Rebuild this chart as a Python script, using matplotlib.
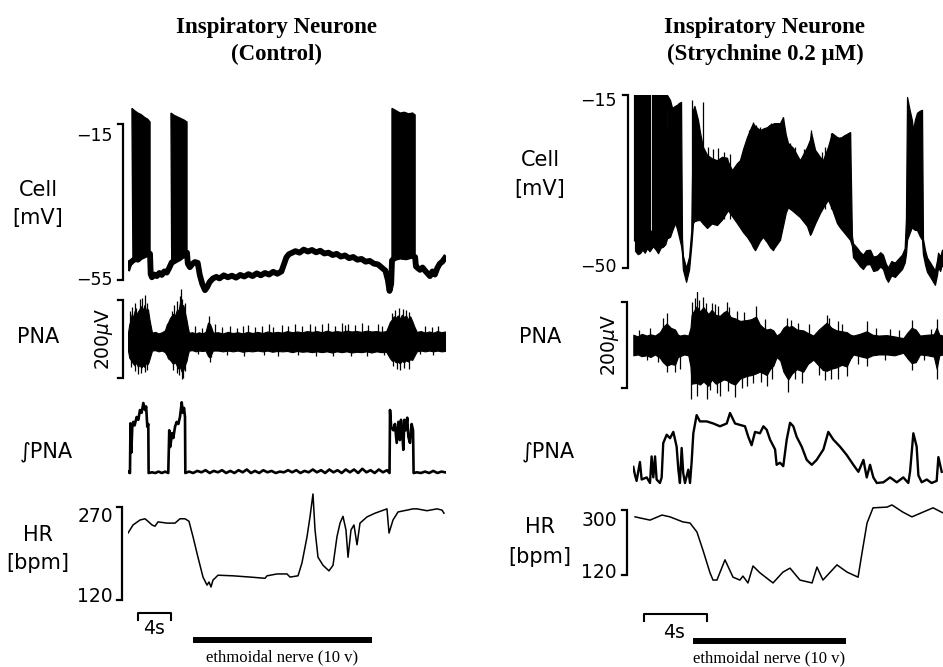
import numpy as np
import matplotlib
matplotlib.use("Agg")
import matplotlib.pyplot as plt

W, H = 943, 667

# ---------------- values ----------------
# left column: control. time in s, membrane potential in mV
cell_l_t = [0.0, 0.2, 0.4, 0.6, 0.9, 1.2, 1.5, 1.8, 2.1, 2.4, 2.67, 2.75, 2.9, 3.2, 3.5, 3.8, 4.1, 4.4,
            4.7, 5.0, 5.3, 5.6, 5.9, 6.2, 6.5, 6.8, 7.15, 7.25, 7.5, 7.8, 8.1, 8.45, 8.7, 9.0, 9.33, 9.6,
            9.9, 10.3, 10.7, 11.1, 11.6, 12.1, 12.6, 13.1, 13.6, 14.1, 14.6, 15.1, 15.6, 16.1, 16.6,
            17.1, 17.6, 18.1, 18.6, 18.9, 19.2, 19.5, 19.9, 20.3, 20.8, 21.3, 21.8, 22.3, 22.8, 23.3,
            23.8, 24.3, 24.8, 25.3, 25.8, 26.3, 26.8, 27.3, 27.8, 28.3, 28.8, 29.3, 29.8, 30.3, 30.8,
            31.2, 31.5, 31.7, 31.9, 32.0, 32.3, 33.0, 33.7, 34.4, 34.8, 34.9, 35.1, 35.4, 35.7, 36.0,
            36.3, 36.6, 36.9, 37.2, 37.5, 37.8, 38.1, 38.4]
cell_l_mv = [-51.9, -50.6, -50.4, -50.0, -49.6, -49.8, -49.2, -48.9, -48.6, -47.9, -48.3, -53.5, -54.3,
             -53.6, -54.0, -53.2, -53.7, -52.8, -53.1, -51.9, -50.5, -50.2, -49.8, -49.5, -49.0, -48.6,
             -48.0, -50.8, -51.7, -50.9, -50.4, -50.6, -53.7, -56.0, -57.6, -56.8, -55.5, -54.6, -54.2,
             -54.6, -53.8, -54.3, -53.9, -54.4, -53.7, -54.1, -53.5, -54.0, -53.3, -53.8, -53.2, -53.6,
             -52.9, -53.4, -52.8, -51.0, -49.2, -48.4, -48.0, -47.6, -48.0, -47.2, -47.7, -47.3, -47.9,
             -47.5, -48.2, -48.0, -48.6, -48.3, -49.0, -48.7, -49.4, -49.1, -49.8, -49.6, -50.3, -50.1,
             -50.8, -51.0, -51.9, -52.6, -55.0, -57.8, -56.0, -50.0, -49.4, -49.0, -49.2, -48.8, -49.1,
             -51.5, -51.9, -52.4, -51.8, -52.6, -53.3, -54.0, -52.8, -53.6, -51.9, -50.8, -50.3, -49.4]
# burst tops (spike peaks)
burst_l_t = [[0.48, 0.8, 1.2, 1.6, 2.0, 2.4, 2.67],
             [5.21, 5.6, 6.0, 6.4, 6.8, 7.15],
             [32.0, 32.5, 33.0, 33.5, 34.0, 34.5, 34.8]]
burst_l_top = [[-11.0, -11.6, -12.2, -12.6, -13.3, -13.8, -14.5],
               [-12.2, -12.8, -13.2, -13.6, -14.0, -14.5],
               [-11.0, -11.6, -12.2, -12.0, -12.4, -12.2, -12.7]]

# phrenic nerve activity, dense core of the trace: t, upper, lower (uV)
pna_l = np.array([
    [0.00, 24, -22], [0.15, 45, -40], [0.30, 55, -45], [0.45, 72, -50], [0.61, 62, -55],
    [0.80, 80, -60], [1.00, 72, -52], [1.21, 78, -64], [1.40, 85, -58], [1.60, 92, -66],
    [1.82, 82, -60], [2.00, 95, -64], [2.20, 80, -52], [2.42, 84, -56], [2.60, 58, -44],
    [2.80, 36, -30], [2.91, 24, -22], [3.30, 26, -21], [3.70, 22, -24], [4.10, 25, -22],
    [4.48, 30, -26], [4.70, 45, -34], [4.85, 50, -42], [5.10, 62, -46], [5.45, 72, -56],
    [5.70, 68, -52], [5.95, 84, -62], [6.10, 78, -68], [6.30, 100, -64], [6.50, 90, -76],
    [6.70, 95, -72], [6.91, 75, -58], [7.10, 56, -48], [7.25, 38, -32], [7.39, 24, -22],
    [7.80, 25, -21], [8.20, 22, -24], [8.60, 25, -22], [9.00, 22, -23], [9.40, 26, -22],
    [9.70, 50, -36], [9.94, 46, -40], [10.15, 34, -28], [10.30, 24, -22], [10.9, 25, -22],
    [11.5, 22, -24], [12.1, 26, -22], [12.7, 23, -24], [13.3, 25, -22], [13.9, 22, -25],
    [14.5, 26, -23], [15.1, 23, -24], [15.7, 26, -22], [16.3, 23, -24], [16.9, 27, -22],
    [17.5, 24, -25], [18.1, 26, -23], [18.7, 24, -24], [19.3, 28, -23], [19.9, 25, -26],
    [20.5, 27, -23], [21.1, 25, -25], [21.7, 28, -24], [22.3, 26, -26], [22.9, 28, -24],
    [23.5, 25, -26], [24.1, 29, -24], [24.7, 26, -27], [25.3, 28, -24], [25.9, 26, -26],
    [26.5, 29, -24], [27.1, 27, -27], [27.7, 28, -25], [28.3, 26, -26], [28.9, 29, -24],
    [29.5, 27, -27], [30.1, 28, -24], [30.7, 26, -26], [31.3, 28, -25], [31.76, 52, -42],
    [32.0, 58, -48], [32.2, 66, -46], [32.45, 62, -52], [32.7, 68, -50], [32.95, 60, -55],
    [33.2, 70, -48], [33.45, 64, -52], [33.7, 68, -47], [33.95, 58, -50], [34.2, 66, -44],
    [34.45, 54, -46], [34.7, 40, -36], [35.0, 26, -24], [35.5, 28, -22], [36.0, 24, -24],
    [36.5, 27, -22], [37.0, 24, -24], [37.5, 28, -22], [38.0, 25, -24], [38.42, 27, -23]])
# single deflections sticking out of the core: t, tip (uV)
pna_l_hair = np.array([
    [0.30, 79], [0.50, 90], [0.85, 100], [1.00, 87], [1.50, 110], [1.75, 113], [2.00, 120],
    [2.30, 100], [5.30, 80], [5.60, 95], [5.90, 105], [6.25, 118], [6.40, 135], [6.60, 110],
    [6.85, 100], [9.80, 67], [32.0, 75], [32.4, 82], [32.8, 88], [33.3, 85], [33.7, 82],
    [34.1, 78], [8.12, 40], [9.01, 36], [10.55, 45], [11.35, 38], [12.36, 42], [13.17, 36],
    [13.98, 40], [14.59, 44], [15.39, 38], [16.20, 42], [17.09, 45], [17.62, 39], [18.63, 44],
    [19.43, 40], [20.24, 46], [21.05, 41], [22.06, 47], [22.67, 42], [23.47, 45], [24.28, 48],
    [25.09, 42], [25.90, 49], [26.30, 44], [26.71, 47], [27.52, 43], [28.32, 49], [29.13, 44],
    [30.34, 46], [30.75, 41], [36.0, 40], [36.8, 38], [37.6, 42],
    [0.40, -65], [0.90, -75], [1.20, -82], [1.60, -80], [2.00, -78], [2.30, -72], [5.50, -72],
    [5.90, -80], [6.20, -85], [6.50, -95], [6.65, -92], [6.90, -75], [9.90, -51], [32.1, -62],
    [32.6, -70], [33.0, -72], [33.5, -66], [34.0, -68], [8.5, -32], [10.0, -38], [12.0, -33],
    [14.0, -35], [16.5, -34], [18.2, -36], [20.6, -34], [22.8, -36], [24.8, -35], [27.0, -37],
    [29.0, -35], [31.0, -34], [35.4, -32], [37.0, -33]])

# integrated PNA, arbitrary units
ipna_l_t = [0.00, 0.20, 0.24, 0.30, 0.40, 0.52, 0.64, 0.80, 1.05, 1.25, 1.45, 1.65, 1.86, 2.06, 2.20,
            2.34, 2.46, 2.50, 2.9, 3.3, 3.7, 4.1, 4.5, 4.88, 5.00, 5.10, 5.21, 5.35, 5.49, 5.70, 5.90,
            6.10, 6.30, 6.51, 6.65, 6.79, 6.91, 6.95, 7.4, 7.9, 8.4, 8.9, 9.4, 9.9, 10.4, 10.9, 11.4,
            11.9, 12.4, 12.9, 13.4, 13.9, 14.4, 14.9, 15.4, 15.9, 16.4, 16.9, 17.4, 17.9, 18.4, 18.9,
            19.4, 19.9, 20.4, 20.9, 21.4, 21.9, 22.4, 22.9, 23.4, 23.9, 24.4, 24.9, 25.4, 25.9, 26.4,
            26.9, 27.4, 27.9, 28.4, 28.9, 29.4, 29.9, 30.4, 30.9, 31.4, 31.7, 31.76, 31.90, 32.16,
            32.35, 32.57, 32.77, 32.95, 33.09, 33.25, 33.37, 33.50, 33.66, 33.85, 33.98, 34.18, 34.38,
            34.55, 34.62, 35.0, 35.5, 36.0, 36.5, 37.0, 37.5, 38.0, 38.42]
ipna_l_v = [2, 0, 0, 71, 29, 66, 73, 68, 80, 76, 90, 86, 100, 90, 95,
            66, 70, 0, 1, 0, 2, 0, 2, 0, 61, 37, 45, 57, 50, 66, 73,
            70, 80, 101, 86, 93, 80, 0, 2, 0, 3, 1, 4, 0, 3, 1, 4,
            0, 3, 0, 4, 1, 5, 0, 3, 0, 4, 1, 3, 0, 2, 1,
            4, 1, 4, 0, 3, 1, 5, 1, 4, 0, 5, 1, 4, 0, 5,
            1, 5, 0, 6, 1, 4, 0, 5, 1, 4, 0, 90, 66, 61,
            70, 43, 73, 47, 76, 57, 33, 76, 61, 79, 52, 43, 70,
            61, 0, 1, 0, 2, 0, 3, 0, 2, 1]

# heart rate, bpm
hr_l_t = [0.00, 0.61, 1.45, 2.06, 2.42, 2.91, 3.27, 3.64, 4.73, 5.70, 6.30, 6.91, 7.39, 7.88, 8.48,
          9.09, 9.58, 9.82, 10.06, 10.30, 10.91, 12.73, 14.79, 16.61, 16.85, 18.06, 19.27, 19.64,
          20.61, 21.09, 21.70, 22.06, 22.42, 22.67, 23.03, 23.64, 24.36, 24.85, 25.33, 25.70, 26.06,
          26.42, 26.67, 27.03, 27.39, 27.76, 28.12, 28.97, 29.94, 31.39, 31.64, 32.12, 32.73, 34.55,
          35.03, 36.24, 37.45, 38.06, 38.30]
hr_l_bpm = [228, 241, 249, 251, 247, 241, 239, 246, 244, 244, 251, 251, 247, 222, 189,
            157, 144, 149, 141, 152, 160, 159, 157, 155, 159, 162, 162, 157,
            159, 180, 222, 254, 291, 233, 189, 176, 167, 176, 222, 244, 255,
            233, 189, 233, 241, 209, 244, 254, 260, 267, 228, 249, 262, 267,
            267, 264, 267, 265, 260]

# right column: strychnine 0.2 uM. membrane potential envelope: t, lower, upper (mV)
cell_r = np.array([
    [0.13, -46.5, -43.2], [0.30, -47.2, -43.6], [0.44, -47.0, -43.4], [0.60, -46.3, -42.8],
    [0.75, -46.9, -43.3], [0.89, -46.0, -42.5], [1.05, -46.6, -43.0], [1.27, -45.6, -42.0],
    [1.45, -46.3, -42.8], [1.59, -47.0, -43.4], [1.75, -45.9, -42.4], [1.90, -45.7, -42.1],
    [2.05, -45.2, -41.6], [2.16, -44.0, -15.0], [2.35, -43.7, -16.0], [2.48, -42.5, -17.6],
    [2.67, -40.9, -17.2], [2.79, -42.0, -17.0], [2.92, -43.7, -16.6], [3.05, -45.5, -16.4],
    [3.11, -47.0, -44.0], [3.17, -50.3, -47.5], [3.37, -52.8, -50.0], [3.56, -50.3, -47.7],
    [3.70, -45.5, -42.5], [3.81, -40.9, -18.0], [3.90, -40.5, -17.2], [4.13, -40.3, -20.1],
    [4.25, -40.3, -22.5], [4.44, -41.0, -25.5], [4.70, -41.9, -27.1], [5.00, -41.0, -27.8],
    [5.33, -41.3, -28.2], [5.65, -40.2, -27.5], [5.97, -38.6, -27.7], [6.03, -38.3, -28.5],
    [6.29, -39.5, -30.2], [6.60, -40.9, -28.8], [6.79, -41.8, -28.2], [7.00, -42.8, -25.8],
    [7.24, -43.7, -23.5], [7.50, -45.0, -21.5], [7.62, -45.8, -20.7], [7.75, -46.4, -21.3],
    [8.06, -44.5, -22.1], [8.25, -43.7, -21.8], [8.51, -44.8, -21.5], [8.70, -45.8, -21.0],
    [8.89, -46.4, -20.8], [8.95, -46.0, -20.7], [9.33, -44.3, -20.7], [9.52, -41.5, -19.5],
    [9.70, -38.8, -23.0], [9.84, -37.7, -24.7], [10.16, -38.5, -25.7], [10.60, -39.7, -28.2],
    [11.05, -41.5, -25.5], [11.24, -43.3, -24.0], [11.30, -43.0, -22.5], [11.56, -41.0, -26.1],
    [11.87, -38.9, -27.5], [12.06, -37.8, -28.2], [12.38, -36.2, -25.5], [12.63, -38.0, -22.7],
    [12.95, -40.9, -23.5], [13.14, -41.8, -23.7], [13.50, -43.2, -23.0], [13.78, -44.3, -22.5],
    [13.90, -45.5, -43.5], [13.97, -47.8, -45.0], [14.22, -48.8, -45.9], [14.40, -49.6, -46.7],
    [14.60, -50.2, -47.3], [14.80, -49.3, -46.4], [15.05, -49.2, -46.3], [15.25, -50.6, -47.7],
    [15.49, -50.4, -47.5], [15.70, -49.7, -46.8], [15.87, -50.2, -47.3], [16.05, -52.0, -49.1],
    [16.19, -52.8, -49.9], [16.40, -51.5, -48.6], [16.63, -51.8, -48.9], [16.85, -51.0, -48.1],
    [17.08, -50.2, -47.3], [17.25, -48.9, -46.0], [17.33, -47.2, -40.0], [17.40, -44.3, -15.4],
    [17.55, -43.0, -17.8], [17.71, -41.7, -20.1], [17.78, -42.0, -22.1], [17.90, -42.3, -20.0],
    [18.03, -42.3, -18.6], [18.20, -43.5, -18.2], [18.35, -44.3, -18.0], [18.41, -47.2, -44.1],
    [18.55, -49.4, -46.5], [18.67, -50.8, -47.9], [18.85, -51.7, -48.8], [18.98, -52.4, -49.5],
    [19.17, -53.4, -50.5], [19.30, -51.4, -48.5], [19.37, -49.8, -46.9], [19.50, -50.6, -47.7],
    [19.62, -49.2, -46.3], [19.68, -49.7, -46.8]])
# action potentials of the opening burst (clipped at the top of the panel): t, foot, peak (mV)
burst_r = np.array([
    [0.13, -44.5, -10], [0.29, -44.8, -10], [0.51, -44.6, -10], [0.67, -44.2, -10],
    [0.86, -44.5, -10], [1.02, -44.5, -10], [1.27, -43.8, -10], [1.43, -44.0, -10],
    [1.65, -44.2, -10], [1.81, -43.2, -10], [2.00, -43.2, -10]])
# single action potentials standing out of the trace: t, foot, peak (mV)
spikes_r = np.array([
    [3.75, -41.0, -16.0], [4.44, -41.0, -16.4],
    [4.75, -40.0, -25.5], [5.05, -40.0, -26.0], [5.40, -40.0, -25.8], [5.80, -40.0, -26.5],
    [6.16, -40.0, -27.0], [7.35, -42.0, -22.1], [7.62, -42.0, -20.4], [7.80, -42.0, -21.1],
    [8.06, -42.0, -21.4], [8.78, -42.0, -20.7], [8.95, -42.0, -20.7], [9.52, -40.0, -19.4],
    [9.97, -38.0, -24.8], [10.29, -38.0, -25.5], [10.85, -40.0, -26.0], [11.30, -40.0, -22.1],
    [11.98, -38.0, -26.5], [12.19, -38.0, -25.5], [12.55, -38.0, -22.7], [13.14, -40.0, -23.4],
    [13.40, -42.0, -23.0], [13.78, -42.0, -22.4]])

pna_r = np.array([
    [0.02, 24, -24], [0.30, 20, -22], [0.55, 26, -26], [0.87, 22, -24], [1.10, 25, -28],
    [1.40, 22, -22], [1.71, 30, -30], [1.90, 42, -40], [2.14, 50, -48], [2.40, 40, -44],
    [2.67, 36, -46], [2.85, 24, -28], [2.98, 22, -26], [3.25, 24, -22], [3.51, 22, -24],
    [3.65, 40, -50], [3.72, 70, -90], [4.04, 90, -88], [4.25, 78, -92], [4.47, 88, -85],
    [4.78, 72, -95], [5.00, 82, -80], [5.25, 70, -90], [5.52, 68, -85], [5.75, 76, -80],
    [5.95, 80, -82], [6.20, 65, -88], [6.48, 62, -92], [6.80, 56, -78], [7.22, 58, -72],
    [7.50, 60, -70], [7.81, 66, -66], [8.05, 48, -62], [8.28, 40, -66], [8.49, 36, -70],
    [8.70, 38, -56], [8.91, 34, -48], [9.12, 22, -28], [9.35, 28, -36], [9.55, 40, -62],
    [9.76, 46, -75], [9.86, 42, -80], [10.10, 44, -66], [10.40, 36, -56], [10.81, 34, -62],
    [11.10, 28, -44], [11.45, 22, -34], [11.80, 36, -48], [12.05, 44, -58], [12.30, 52, -60],
    [12.60, 40, -55], [12.93, 34, -52], [13.25, 32, -46], [13.57, 30, -50], [13.80, 24, -32],
    [13.99, 22, -22], [14.40, 26, -26], [14.84, 32, -30], [15.20, 24, -24], [15.60, 22, -22],
    [16.11, 23, -22], [16.60, 20, -24], [17.16, 16, -18], [17.45, 30, -32], [17.69, 40, -42],
    [17.95, 36, -40], [18.22, 22, -22], [18.70, 24, -24], [19.10, 25, -27], [19.28, 40, -55],
    [19.45, 24, -24], [19.68, 22, -22]])
pna_r_hair = np.array([
    [3.75, 100], [3.95, 110], [4.04, 125], [4.20, 105], [4.47, 112], [4.62, 98], [5.00, 97],
    [5.20, 95], [5.40, 90], [5.95, 100], [6.10, 88], [6.60, 80], [7.05, 76], [7.81, 90],
    [8.40, 60], [9.76, 62], [10.00, 58], [10.5, 52], [12.30, 70], [12.45, 62], [13.00, 55],
    [14.84, 55], [15.4, 40], [16.3, 38], [17.69, 58], [19.28, 60], [1.90, 62], [2.14, 75],
    [1.10, 40], [0.40, 34], [11.2, 48], [13.3, 48], [16.9, 36], [18.9, 38],
    [3.68, -125], [4.08, -118], [4.71, -125], [4.88, -105], [5.35, -112], [5.52, -118],
    [6.00, -108], [6.48, -122], [6.90, -100], [7.22, -95], [7.60, -88], [8.10, -85],
    [8.49, -95], [8.80, -80], [9.86, -110], [10.3, -80], [10.70, -88], [11.8, -70],
    [12.2, -82], [12.6, -78], [13.0, -80], [13.57, -72], [14.3, -45], [14.84, -48],
    [17.69, -58], [19.28, -78], [2.14, -62], [2.67, -62], [2.98, -55], [1.60, -40],
    [0.90, -36], [16.0, -36], [18.5, -34]])

ipna_r_t = [0.02, 0.13, 0.23, 0.44, 0.55, 0.87, 1.08, 1.18, 1.29, 1.40, 1.50, 1.71, 1.82, 1.92, 2.14,
            2.35, 2.56, 2.77, 2.88, 2.98, 3.09, 3.19, 3.30, 3.51, 3.62, 3.72, 3.83, 4.04, 4.25, 4.68,
            5.10, 5.52, 5.95, 6.16, 6.48, 6.79, 7.11, 7.32, 7.53, 7.75, 8.06, 8.28, 8.49, 8.70, 9.02,
            9.12, 9.33, 9.54, 9.76, 9.97, 10.18, 10.39, 10.71, 11.03, 11.35, 11.66, 12.09, 12.40,
            12.72, 13.14, 13.57, 13.99, 14.31, 14.63, 14.84, 15.05, 15.26, 15.48, 15.90, 16.32, 16.75,
            17.16, 17.48, 17.59, 17.80, 18.01, 18.12, 18.33, 18.65, 18.96, 19.28, 19.39, 19.60]
ipna_r_v = [23, 11, 3, 30, 5, 8, 0, 38, 8, 38, 5, 0, 8, 57, 69,
            64, 73, 52, 19, 0, 50, 14, 0, 19, 0, 29, 71, 97, 88, 88,
            85, 81, 85, 100, 85, 83, 81, 66, 54, 73, 71, 81, 76, 62, 48,
            26, 29, 24, 62, 86, 81, 66, 52, 33, 26, 33, 48, 73,
            62, 52, 40, 26, 16, 33, 8, 26, 8, 0, 1, 8, 1,
            8, 0, 16, 71, 52, 11, 1, 5, 0, 3, 37, 16]

hr_r_t = [0.13, 1.08, 1.84, 2.35, 3.17, 3.62, 4.06, 4.44, 4.89, 5.08, 5.33, 5.84, 6.35, 6.79, 6.98,
          7.30, 7.62, 8.06, 8.89, 9.52, 9.97, 10.60, 11.37, 11.68, 12.06, 12.95, 13.59, 14.29, 14.54,
          14.86, 15.24, 16.13, 16.44, 17.14, 17.71, 19.05, 19.68]
hr_r_bpm = [281, 272, 286, 281, 267, 264, 239, 189, 126, 106, 106, 162, 114, 106, 117,
            98, 145, 126, 98, 128, 139, 106, 98, 142, 106, 148, 128, 114, 181,
            264, 306, 308, 314, 294, 281, 306, 292]

# scale bars and stimulus period (s)
scale_l = [1.21, 5.21]
scale_r = [0.70, 4.70]
stim_l = [7.88, 29.58]
stim_r = [3.81, 13.52]

# ---------------- layout ----------------
fig = plt.figure(figsize=(W / 100, H / 100), dpi=100)


def P(x, y):
    return x / W, 1 - y / H


def trace_ax(box, xcal, ycal):
    # box = left, top, right, bottom in pixels; cal = (value, pixel) pairs
    (xa, pa), (xb, pb) = xcal
    sx = (xb - xa) / (pb - pa)
    (ya, qa), (yb, qb) = ycal
    sy = (yb - ya) / (qb - qa)
    ax = fig.add_axes([box[0] / W, 1 - box[3] / H, (box[2] - box[0]) / W, (box[3] - box[1]) / H])
    ax.set_xlim(xa + (box[0] - pa) * sx, xa + (box[2] - pa) * sx)
    ax.set_ylim(ya + (box[3] - qa) * sy, ya + (box[1] - qa) * sy)
    ax.axis("off")
    ax.patch.set_visible(False)
    return ax


def bracket(ax, x, serif, v0, v1, lw=1.6):
    ax.plot([x - serif, x, x, x - serif], [v0, v0, v1, v1], color="k", lw=lw,
            clip_on=False, solid_joinstyle="miter")


def end_label(ax, x, v, text, dx, dy, size):
    ax.annotate(text, xy=(x, v), xytext=(-dx, dy), textcoords="offset pixels",
                ha="right", va="center_baseline", fontsize=size, annotation_clip=False)


def pna_trace(ax, core, hair):
    ax.fill_between(core[:, 0], core[:, 2], core[:, 1], color="k", lw=0.8)
    ax.vlines(hair[:, 0], 0, hair[:, 1], color="k", lw=0.9)


lab = 15
num = 12.5
xl = ((0, 128), (1, 136.25))
xr = ((0, 633), (1, 648.75))
sl = 1 / 8.25     # s per pixel, left
sr = 1 / 15.75    # s per pixel, right

# titles
serif = dict(family="Liberation Serif", weight="bold", fontsize=16.5, ha="center", va="center_baseline")
fig.text(*P(277, 25), "Inspiratory Neurone", **serif)
fig.text(*P(277, 52), "(Control)", **serif)
fig.text(*P(765, 25), "Inspiratory Neurone", **serif)
fig.text(*P(765, 52), "(Strychnine 0.2 \u03bcM)", **serif)

# row labels
for cx, rows in [(38, [("Cell", 188), ("[mV]", 216), ("PNA", 335), ("\u222bPNA", 449),
                       ("HR", 533), ("[bpm]", 561)]),
                 (540, [("Cell", 158), ("[mV]", 187), ("PNA", 335), ("\u222bPNA", 449),
                        ("HR", 525), ("[bpm]", 555)])]:
    for txt, cy in rows:
        fig.text(*P(cx + (8 if txt.startswith("\u222b") else 0), cy), txt, ha="center",
                 va="center_baseline", fontsize=lab)
fig.text(*P(104, 339), "200$\\mu$V", rotation=90, ha="center", va="center", fontsize=13.5)
fig.text(*P(610, 345), "200$\\mu$V", rotation=90, ha="center", va="center", fontsize=13.5)

# ---- left: cell
ax = trace_ax((128, 95, 446, 300), xl, ((-15, 124), (-55, 280)))
for bt, btop in zip(burst_l_t, burst_l_top):
    t = np.asarray(cell_l_t)
    m = (t >= bt[0]) & (t <= bt[-1])
    ax.fill(np.r_[bt, t[m][::-1]], np.r_[btop, np.asarray(cell_l_mv)[m][::-1]],
            color="k", lw=1.0)
ax.plot(cell_l_t, cell_l_mv, color="k", lw=4.2, solid_joinstyle="round")
bracket(ax, -5 * sl, 5 * sl, -15, -55)
end_label(ax, -5 * sl, -15, "\u221215", 10, -10, num)
end_label(ax, -5 * sl, -55, "\u221255", 10, 2, num)

# ---- left: PNA
ax = trace_ax((128, 285, 446, 390), xl, ((0, 342), (100, 303)))
pna_trace(ax, pna_l, pna_l_hair)
bracket(ax, -5 * sl, 5 * sl, -92, 108)

# ---- left: integrated PNA
ax = trace_ax((128, 390, 446, 482), xl, ((0, 473), (100, 403)))
ax.plot(ipna_l_t, ipna_l_v, color="k", lw=1.9)

# ---- left: HR
ax = trace_ax((128, 485, 446, 606), xl, ((270, 507), (120, 600)))
ax.plot(hr_l_t, hr_l_bpm, color="k", lw=1.1)
bracket(ax, -6 * sl, 5 * sl, 270, 120)
end_label(ax, -6 * sl, 270, "270", 9, -8, 13.5)
end_label(ax, -6 * sl, 120, "120", 9, 6, 13.5)

# ---- right: cell
ax = trace_ax((633, 95, 943, 292), xr, ((-15, 95), (-50, 268)))
ax.fill_between(cell_r[:, 0], cell_r[:, 1], cell_r[:, 2], color="k", lw=0.9)
ax.vlines(burst_r[:, 0], burst_r[:, 1], burst_r[:, 2], color="k", lw=2.3)
ax.vlines(spikes_r[:, 0], spikes_r[:, 1], spikes_r[:, 2], color="k", lw=0.9)
bracket(ax, -5 * sr, 5 * sr, -15, -50)
end_label(ax, -5 * sr, -15, "\u221215", 11, -4, num)
end_label(ax, -5 * sr, -50, "\u221250", 11, 3, num)

# ---- right: PNA
ax = trace_ax((633, 292, 943, 405), xr, ((0, 345), (100, 302)))
pna_trace(ax, pna_r, pna_r_hair)
bracket(ax, -6 * sr, 5 * sr, -100, 100)

# ---- right: integrated PNA
ax = trace_ax((633, 405, 943, 492), xr, ((0, 483), (100, 413)))
ax.plot(ipna_r_t, ipna_r_v, color="k", lw=1.7)

# ---- right: HR
ax = trace_ax((633, 495, 943, 600), xr, ((300, 510), (120, 575)))
ax.plot(hr_r_t, hr_r_bpm, color="k", lw=1.1)
bracket(ax, -6 * sr, 5 * sr, 300, 120)
end_label(ax, -6 * sr, 300, "300", 10, -8, 13.5)
end_label(ax, -6 * sr, 120, "120", 10, 5, 13.5)

# ---- time scale and stimulus bars
for x0, cal, scale, stim, bar_y, lab_x, lab_y, s_y, s_lab in [
        (128, xl, scale_l, stim_l, 613, 154, 627, 639.5, 655),
        (633, xr, scale_r, stim_r, 614, 674, 630, 641, 656)]:
    ax = trace_ax((x0 - 20, 605, x0 + 300, 667), cal, ((0, 667), (62, 605)))
    ax.plot([scale[0], scale[0], scale[1], scale[1]],
            [667 - bar_y - 7, 667 - bar_y, 667 - bar_y, 667 - bar_y - 7], color="k", lw=1.5)
    ax.plot(stim, [667 - s_y] * 2, color="k", lw=4.3, solid_capstyle="butt")
    fig.text(*P(lab_x, lab_y), "4s", ha="center", va="center_baseline", fontsize=13.5)
    fig.text(*P((cal[0][1] + (stim[0] + stim[1]) / 2 * (cal[1][1] - cal[0][1])), s_lab),
             "ethmoidal nerve (10 v)", family="Liberation Serif", fontsize=12,
             ha="center", va="center_baseline")

fig.savefig("out.png", dpi=100)
